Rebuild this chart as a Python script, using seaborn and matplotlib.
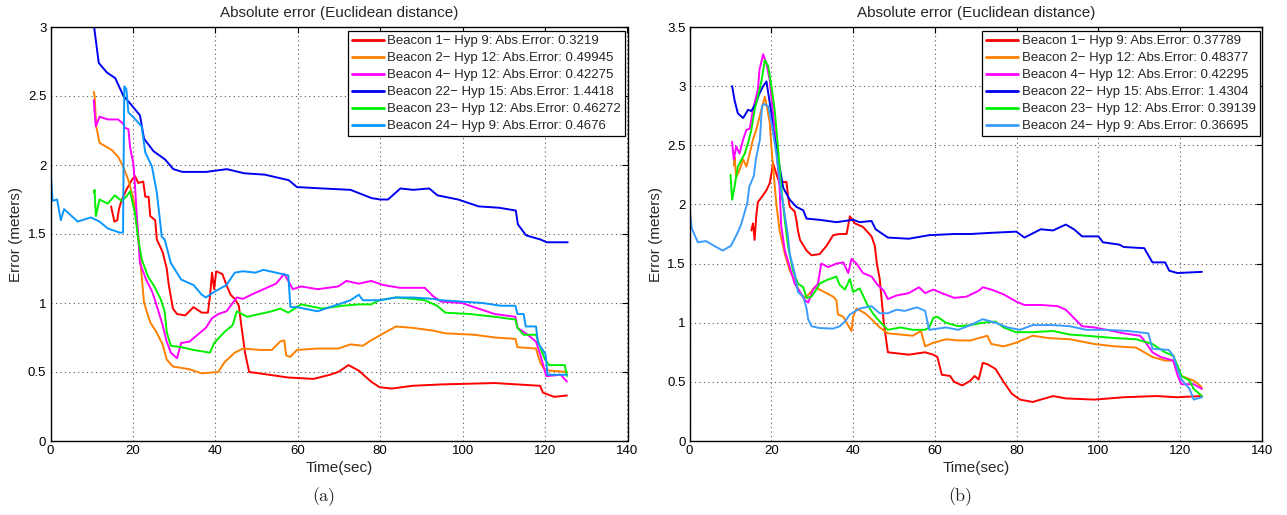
import numpy as np
import pandas as pd
import matplotlib
matplotlib.use("Agg")
import matplotlib.pyplot as plt
from matplotlib.ticker import FormatStrFormatter
import seaborn as sns

# ---- panel (a) ----
a_t1 = [14.7, 15.5, 16.2, 16.6, 17.2, 18.4, 19.7, 20.5, 21.3, 22.5, 23.0, 23.8, 24.2, 25.4, 25.8, 27.2, 28.2, 28.7, 29.7, 30.7, 32.7, 34.7, 36.7, 38.2, 38.7, 39.2, 39.7, 40.2, 41.7, 42.7, 43.7, 44.7, 45.7, 46.2, 47.2, 48.2, 50.7, 57.7, 63.8, 67.8, 69.8, 72.3, 74.8, 77.8, 79.8, 82.8, 87.8, 94.8, 107.8, 118.8, 119.5, 122.2, 125.3]
a_e1 = [1.70, 1.59, 1.60, 1.68, 1.74, 1.82, 1.89, 1.92, 1.87, 1.88, 1.77, 1.77, 1.63, 1.60, 1.46, 1.37, 1.25, 1.13, 0.96, 0.92, 0.91, 0.97, 0.93, 0.93, 1.05, 1.22, 1.10, 1.23, 1.21, 1.13, 1.06, 1.03, 0.98, 0.86, 0.64, 0.50, 0.49, 0.46, 0.45, 0.48, 0.50, 0.55, 0.51, 0.43, 0.39, 0.38, 0.40, 0.41, 0.42, 0.40, 0.35, 0.32, 0.33]

a_t2 = [10.5, 10.7, 11.1, 11.9, 13.1, 14.8, 16.4, 17.6, 18.9, 19.7, 20.5, 21.3, 21.7, 22.7, 24.2, 25.7, 27.2, 28.2, 29.7, 31.7, 33.7, 36.7, 40.7, 42.2, 44.7, 46.7, 50.7, 53.7, 55.7, 56.7, 57.2, 58.2, 59.8, 64.8, 69.8, 72.8, 75.8, 77.8, 80.8, 83.8, 87.8, 92.8, 95.8, 102.8, 107.8, 112.8, 113.3, 117.8, 118.8, 119.8, 121.2, 125.3]
a_e2 = [2.53, 2.50, 2.28, 2.16, 2.14, 2.11, 2.06, 1.99, 1.89, 1.80, 1.70, 1.48, 1.34, 1.00, 0.86, 0.79, 0.70, 0.59, 0.54, 0.53, 0.52, 0.49, 0.50, 0.57, 0.64, 0.67, 0.66, 0.66, 0.72, 0.73, 0.62, 0.61, 0.66, 0.67, 0.67, 0.70, 0.69, 0.73, 0.78, 0.83, 0.82, 0.80, 0.78, 0.77, 0.75, 0.74, 0.68, 0.67, 0.57, 0.52, 0.51, 0.50]

a_t4 = [10.5, 10.7, 11.0, 11.9, 13.9, 16.4, 17.6, 18.0, 18.9, 19.3, 20.1, 20.5, 20.9, 21.3, 21.7, 23.2, 24.7, 26.2, 27.2, 28.2, 29.2, 30.7, 31.7, 33.7, 35.7, 37.7, 39.2, 40.7, 42.7, 44.2, 45.2, 46.7, 48.7, 51.7, 54.7, 56.7, 57.7, 58.8, 60.8, 64.8, 69.8, 71.8, 74.8, 77.8, 80.8, 84.8, 90.8, 92.8, 94.8, 99.8, 102.8, 107.8, 112.8, 113.3, 115.8, 117.8, 118.8, 120.3, 123.8, 125.3]
a_e4 = [2.47, 2.38, 2.28, 2.35, 2.33, 2.33, 2.30, 2.27, 2.26, 2.13, 2.01, 1.85, 1.65, 1.48, 1.29, 1.17, 1.08, 0.94, 0.84, 0.72, 0.64, 0.60, 0.71, 0.72, 0.77, 0.82, 0.89, 0.92, 0.94, 1.00, 1.04, 1.03, 1.06, 1.10, 1.14, 1.21, 1.16, 1.10, 1.12, 1.10, 1.12, 1.16, 1.14, 1.16, 1.13, 1.11, 1.11, 1.05, 1.01, 1.00, 0.97, 0.92, 0.90, 0.82, 0.77, 0.72, 0.63, 0.47, 0.48, 0.43]

a_t22 = [10.5, 11.7, 13.7, 15.7, 17.7, 19.5, 21.7, 22.7, 25.0, 27.8, 29.8, 32.0, 37.8, 42.8, 47.0, 52.0, 57.8, 59.8, 66.0, 72.8, 77.9, 80.0, 81.9, 84.9, 88.0, 91.9, 93.9, 98.9, 103.9, 108.9, 112.9, 113.4, 115.4, 118.9, 120.4, 125.5]
a_e22 = [3.02, 2.74, 2.67, 2.63, 2.50, 2.44, 2.36, 2.19, 2.10, 2.04, 1.97, 1.95, 1.95, 1.97, 1.94, 1.93, 1.89, 1.84, 1.83, 1.82, 1.76, 1.75, 1.75, 1.83, 1.82, 1.83, 1.78, 1.75, 1.70, 1.69, 1.67, 1.57, 1.49, 1.46, 1.44, 1.44]

a_t23 = [10.5, 10.7, 11.0, 11.9, 13.9, 15.6, 17.2, 18.4, 19.3, 20.1, 20.5, 21.3, 22.2, 23.7, 25.2, 26.7, 27.7, 28.2, 29.2, 31.7, 34.7, 38.7, 39.7, 42.2, 44.2, 45.2, 47.7, 50.7, 53.7, 55.7, 57.7, 60.8, 65.8, 70.8, 74.8, 77.8, 79.8, 83.8, 87.8, 90.8, 93.8, 95.8, 101.8, 107.8, 112.8, 113.3, 114.8, 117.8, 118.8, 120.0, 121.0, 124.8, 125.3]
a_e23 = [1.80, 1.82, 1.63, 1.75, 1.72, 1.78, 1.74, 1.77, 1.81, 1.70, 1.65, 1.46, 1.31, 1.19, 1.12, 1.03, 0.94, 0.79, 0.69, 0.68, 0.66, 0.64, 0.71, 0.79, 0.84, 0.94, 0.90, 0.92, 0.94, 0.96, 0.93, 0.99, 0.96, 0.98, 0.99, 0.99, 1.02, 1.04, 1.03, 1.02, 0.98, 0.93, 0.92, 0.90, 0.88, 0.82, 0.77, 0.77, 0.68, 0.59, 0.55, 0.55, 0.47]

a_t24 = [0.0, 0.5, 1.6, 2.5, 3.3, 6.6, 9.8, 11.9, 13.9, 16.8, 17.6, 17.9, 18.4, 18.9, 20.0, 22.1, 23.0, 24.6, 25.8, 27.0, 27.7, 29.2, 31.7, 34.7, 36.7, 37.7, 39.7, 42.7, 44.7, 46.7, 49.7, 51.7, 54.7, 57.7, 58.2, 59.8, 64.8, 67.8, 72.8, 74.8, 75.8, 79.8, 83.8, 87.8, 92.8, 94.8, 99.8, 104.8, 109.3, 112.8, 113.3, 114.8, 115.3, 117.8, 118.3, 120.1, 120.6, 125.3]
a_e24 = [1.97, 1.74, 1.75, 1.60, 1.68, 1.59, 1.62, 1.59, 1.54, 1.51, 1.51, 2.57, 2.55, 2.38, 2.35, 2.28, 2.09, 1.99, 1.80, 1.48, 1.46, 1.29, 1.17, 1.13, 1.06, 1.04, 1.08, 1.13, 1.22, 1.23, 1.22, 1.24, 1.22, 1.20, 0.97, 0.97, 0.94, 0.97, 1.02, 1.06, 1.02, 1.02, 1.04, 1.04, 1.03, 1.02, 1.01, 1.00, 0.98, 0.98, 0.92, 0.92, 0.83, 0.83, 0.71, 0.63, 0.48, 0.48]

a_errors = ["0.3219", "0.49945", "0.42275", "1.4418", "0.46272", "0.4676"]

# ---- panel (b) ----
b_t1 = [15.1, 15.5, 15.9, 16.3, 16.7, 17.6, 18.8, 19.6, 20.0, 20.4, 21.2, 22.0, 22.9, 23.7, 24.1, 24.5, 25.7, 26.1, 26.5, 27.0, 28.6, 29.8, 31.8, 33.5, 35.1, 36.7, 38.4, 39.2, 40.4, 42.4, 44.5, 45.3, 45.8, 46.5, 47.5, 48.5, 53.6, 57.6, 59.6, 60.6, 61.7, 63.7, 64.7, 66.7, 68.7, 69.7, 70.7, 71.7, 72.8, 74.8, 76.8, 78.8, 80.8, 83.9, 85.9, 88.9, 92.0, 99.0, 106.2, 114.2, 119.3, 125.3]
b_e1 = [1.78, 1.84, 1.70, 1.90, 2.02, 2.06, 2.12, 2.18, 2.26, 2.35, 2.26, 2.18, 2.19, 2.19, 2.06, 1.98, 1.94, 1.87, 1.78, 1.70, 1.61, 1.57, 1.58, 1.65, 1.74, 1.75, 1.75, 1.90, 1.84, 1.81, 1.73, 1.65, 1.50, 1.37, 1.00, 0.75, 0.73, 0.75, 0.73, 0.71, 0.56, 0.55, 0.50, 0.47, 0.51, 0.55, 0.52, 0.66, 0.65, 0.61, 0.50, 0.40, 0.35, 0.33, 0.35, 0.38, 0.36, 0.35, 0.37, 0.38, 0.37, 0.38]

b_t2 = [10.8, 11.0, 11.4, 12.2, 13.1, 13.9, 14.7, 15.5, 16.3, 17.1, 18.0, 18.4, 18.9, 19.6, 20.0, 20.4, 21.2, 22.0, 23.3, 24.5, 25.7, 27.0, 28.2, 29.4, 30.6, 31.8, 33.5, 35.1, 35.9, 36.3, 37.6, 38.4, 39.6, 40.0, 40.8, 42.9, 44.5, 46.5, 48.5, 51.6, 54.6, 56.6, 57.6, 59.6, 62.7, 65.7, 68.7, 70.7, 72.8, 73.8, 76.8, 79.8, 83.9, 87.9, 93.0, 99.0, 104.1, 109.2, 113.2, 116.3, 118.3, 119.3, 120.3, 123.3, 124.8, 125.3]
b_e2 = [2.33, 2.40, 2.23, 2.29, 2.38, 2.32, 2.43, 2.55, 2.63, 2.74, 2.86, 2.91, 2.83, 2.69, 2.49, 2.32, 2.01, 1.78, 1.58, 1.44, 1.36, 1.25, 1.21, 1.25, 1.30, 1.28, 1.25, 1.22, 1.19, 1.07, 1.05, 1.00, 0.93, 1.05, 1.12, 1.08, 1.03, 0.96, 0.91, 0.90, 0.89, 0.93, 0.80, 0.83, 0.86, 0.85, 0.85, 0.87, 0.89, 0.82, 0.80, 0.83, 0.89, 0.87, 0.86, 0.82, 0.80, 0.79, 0.71, 0.68, 0.68, 0.61, 0.55, 0.51, 0.47, 0.45]

b_t4 = [10.4, 10.8, 11.4, 12.2, 13.1, 13.9, 14.7, 15.5, 16.7, 17.1, 18.0, 18.8, 19.6, 20.4, 21.2, 22.0, 22.4, 23.3, 24.5, 25.7, 27.0, 28.2, 29.0, 30.2, 31.4, 32.2, 33.9, 35.9, 37.6, 38.8, 39.6, 40.8, 42.4, 44.5, 46.0, 47.5, 48.5, 50.6, 53.6, 56.1, 57.6, 59.6, 61.7, 64.7, 67.7, 70.7, 71.7, 73.8, 76.8, 79.8, 81.9, 85.9, 90.0, 92.0, 94.0, 96.0, 99.0, 102.0, 106.2, 110.2, 111.2, 113.2, 115.2, 118.3, 119.3, 120.3, 123.3, 125.3]
b_e4 = [2.53, 2.38, 2.49, 2.43, 2.55, 2.63, 2.64, 2.80, 2.97, 3.14, 3.27, 3.19, 3.05, 2.77, 2.49, 2.15, 1.82, 1.61, 1.47, 1.33, 1.26, 1.19, 1.17, 1.28, 1.33, 1.50, 1.47, 1.50, 1.51, 1.42, 1.54, 1.50, 1.42, 1.39, 1.32, 1.27, 1.20, 1.23, 1.25, 1.30, 1.25, 1.28, 1.25, 1.21, 1.22, 1.27, 1.30, 1.28, 1.24, 1.18, 1.15, 1.15, 1.14, 1.11, 1.04, 0.97, 0.96, 0.94, 0.91, 0.89, 0.85, 0.75, 0.71, 0.68, 0.56, 0.48, 0.48, 0.44]

b_t22 = [10.4, 11.0, 11.8, 13.1, 14.3, 15.1, 16.3, 17.1, 18.0, 18.8, 19.6, 20.0, 20.4, 21.2, 22.0, 22.9, 24.5, 26.1, 27.8, 28.6, 31.8, 35.9, 40.0, 41.6, 44.5, 45.5, 48.5, 53.6, 58.6, 64.7, 68.7, 73.8, 79.9, 81.9, 85.9, 88.9, 92.0, 94.0, 96.0, 100.0, 101.1, 105.1, 106.2, 111.2, 113.2, 116.3, 117.3, 119.3, 125.3]
b_e22 = [3.00, 2.88, 2.77, 2.73, 2.80, 2.79, 2.86, 2.94, 3.00, 3.04, 2.86, 2.77, 2.63, 2.49, 2.32, 2.14, 2.04, 1.98, 1.95, 1.88, 1.87, 1.85, 1.87, 1.85, 1.86, 1.79, 1.72, 1.71, 1.74, 1.75, 1.75, 1.76, 1.77, 1.72, 1.79, 1.78, 1.83, 1.79, 1.73, 1.73, 1.68, 1.66, 1.64, 1.63, 1.51, 1.51, 1.44, 1.42, 1.43]

b_t23 = [10.0, 10.4, 11.0, 11.8, 12.7, 13.5, 14.3, 15.1, 15.9, 16.7, 17.6, 18.4, 19.2, 20.0, 20.8, 21.6, 22.4, 23.3, 24.1, 25.3, 26.5, 27.8, 28.6, 29.8, 31.0, 31.8, 33.5, 35.9, 36.7, 38.0, 39.2, 40.0, 41.6, 43.5, 45.0, 46.5, 48.5, 51.6, 54.6, 57.6, 58.6, 59.6, 60.6, 62.7, 65.7, 68.7, 71.7, 74.8, 76.8, 79.8, 83.9, 88.9, 93.0, 97.0, 104.1, 109.2, 113.2, 116.3, 118.3, 119.3, 120.3, 122.3, 123.3, 125.3]
b_e23 = [2.25, 2.04, 2.15, 2.32, 2.38, 2.43, 2.52, 2.63, 2.80, 2.91, 3.05, 3.22, 3.17, 3.00, 2.80, 2.49, 2.15, 1.86, 1.64, 1.44, 1.33, 1.30, 1.21, 1.22, 1.28, 1.33, 1.36, 1.39, 1.32, 1.28, 1.37, 1.26, 1.29, 1.15, 1.07, 1.01, 0.94, 0.96, 0.94, 0.94, 0.96, 1.04, 1.05, 1.00, 0.97, 0.98, 1.00, 1.01, 0.96, 0.92, 0.92, 0.93, 0.90, 0.89, 0.87, 0.86, 0.82, 0.75, 0.72, 0.64, 0.55, 0.51, 0.44, 0.38]

b_t24 = [0.0, 0.5, 1.0, 2.0, 4.0, 6.0, 8.1, 10.1, 11.6, 12.6, 14.1, 14.6, 15.7, 16.2, 17.2, 17.7, 18.2, 19.2, 20.2, 21.2, 22.2, 23.2, 24.0, 24.5, 25.7, 26.5, 27.8, 28.6, 29.0, 29.8, 31.8, 35.1, 36.7, 38.0, 39.2, 41.6, 44.5, 46.5, 48.5, 50.6, 52.6, 55.6, 57.6, 58.6, 62.7, 65.7, 68.7, 71.7, 74.8, 77.8, 80.8, 83.9, 88.9, 93.0, 97.0, 102.0, 107.2, 112.2, 113.2, 117.2, 118.3, 119.3, 120.3, 122.3, 123.3, 125.3]
b_e24 = [1.97, 1.80, 1.76, 1.68, 1.69, 1.65, 1.61, 1.65, 1.75, 1.83, 2.01, 2.15, 2.24, 2.38, 2.55, 2.83, 2.85, 2.83, 2.66, 2.43, 2.15, 1.93, 1.75, 1.58, 1.42, 1.26, 1.22, 1.12, 1.03, 0.97, 0.955, 0.95, 0.97, 1.01, 1.07, 1.12, 1.14, 1.08, 1.08, 1.11, 1.10, 1.13, 1.10, 0.94, 0.96, 0.94, 0.98, 1.03, 1.00, 0.96, 0.94, 0.98, 0.98, 0.97, 0.94, 0.94, 0.93, 0.91, 0.78, 0.77, 0.72, 0.61, 0.52, 0.44, 0.35, 0.37]

b_errors = ["0.37789", "0.48377", "0.42295", "1.4304", "0.39139", "0.36695"]

beacons = ["1", "2", "4", "22", "23", "24"]
hyps = ["9", "12", "12", "15", "12", "9"]
colors_a = ["#ff0000", "#ff8000", "#ff00ff", "#0000f0", "#00f000", "#0a96ff"]
colors_b = ["#ff0000", "#ff8000", "#ff00ff", "#0000f0", "#00f000", "#3a9cff"]


def make_df(ts, es, errors):
    frames = []
    for b, h, err, t, e in zip(beacons, hyps, errors, ts, es):
        lab = f"Beacon {b}\u2212 Hyp {h}: Abs.Error: {err}"
        frames.append(pd.DataFrame({"time": t, "err": e, "label": lab}))
    return pd.concat(frames, ignore_index=True)


df_a = make_df([a_t1, a_t2, a_t4, a_t22, a_t23, a_t24],
               [a_e1, a_e2, a_e4, a_e22, a_e23, a_e24], a_errors)
df_b = make_df([b_t1, b_t2, b_t4, b_t22, b_t23, b_t24],
               [b_e1, b_e2, b_e4, b_e22, b_e23, b_e24], b_errors)

sns.set_style("white")
plt.rcParams["font.family"] = ["Liberation Sans", "DejaVu Sans"]
plt.rcParams["axes.edgecolor"] = "black"
plt.rcParams["axes.linewidth"] = 1.0

fig = plt.figure(figsize=(12.87, 5.15), dpi=100)
W, H = 1287, 515
ax_a = fig.add_axes([50.5 / W, 74 / H, 577 / W, 414 / H])
ax_b = fig.add_axes([689.6 / W, 74 / H, 572.4 / W, 414 / H])

panels = [(ax_a, df_a, colors_a, 3.0, "(a)", 324),
          (ax_b, df_b, colors_b, 3.5, "(b)", 960)]

for ax, df, cols, ymax, cap, capx in panels:
    labels = list(df["label"].unique())
    sns.lineplot(data=df, x="time", y="err", hue="label", hue_order=labels,
                 palette=dict(zip(labels, cols)), estimator=None,
                 linewidth=1.4, ax=ax)
    ax.set_xlim(0, 140)
    ax.set_ylim(0, ymax)
    ax.set_xticks(np.arange(0, 141, 20))
    ax.set_yticks(np.arange(0, ymax + 0.01, 0.5))
    ax.yaxis.set_major_formatter(FormatStrFormatter("%g"))
    ax.tick_params(direction="in", top=True, right=True, length=4,
                   width=0.8, labelsize=9.5, pad=3, colors="black")
    ax.grid(True, linestyle=(0, (1, 3)), color="#555555", linewidth=0.8)
    ax.set_axisbelow(True)
    for s in ax.spines.values():
        s.set_visible(True)
        s.set_color("black")
    ax.set_title("Absolute error (Euclidean distance)", fontsize=11,
                 y=1 + 13.8 / 414, va="center", pad=0)
    ax.set_xlabel("Time(sec)", fontsize=11)
    ax.set_ylabel("Error (meters)", fontsize=11)
    ax.xaxis.label.set_va("center")
    ax.xaxis.set_label_coords(0.5, -26.7 / 414)
    ax.yaxis.label.set_va("center")
    ax.yaxis.set_label_coords(-34 / 577, 0.5)
    sns.move_legend(ax, "upper right", bbox_to_anchor=(0.996, 0.99),
                    title=None, frameon=True, fancybox=False, framealpha=1,
                    edgecolor="black", fontsize=9.5, handlelength=2.4,
                    handletextpad=0.3, labelspacing=0.36, borderpad=0.3,
                    borderaxespad=0)
    leg = ax.get_legend()
    leg.get_frame().set_linewidth(0.9)
    for h in leg.legend_handles:
        h.set_linewidth(2.0)
    fig.text(capx / W, 1 - 496.7 / H, cap, ha="center", va="center",
             fontfamily="cmr10", fontsize=13)

fig.savefig("out.png", dpi=100)
